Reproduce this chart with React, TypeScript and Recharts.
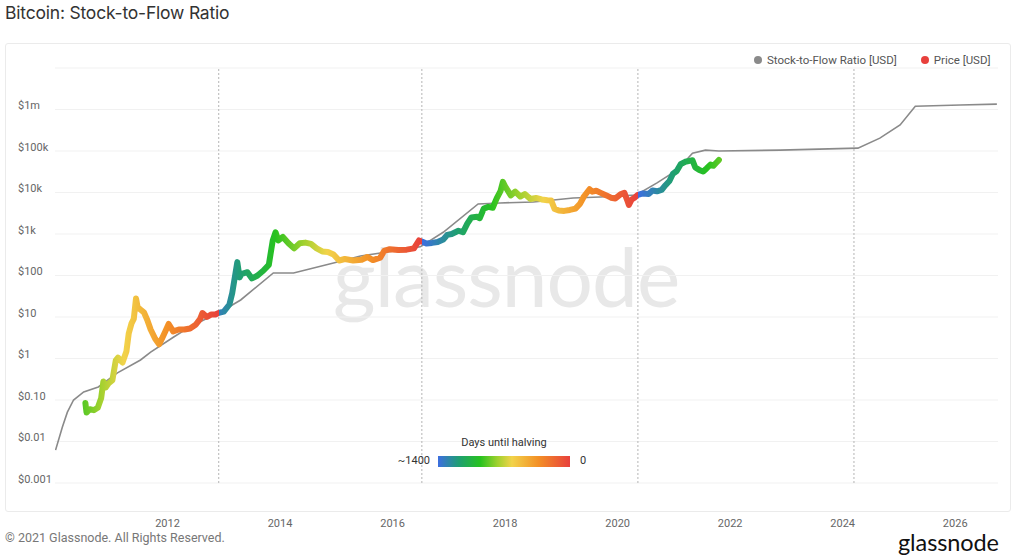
import React from 'react'
import { ComposedChart, Line, XAxis, YAxis, CartesianGrid, ReferenceLine } from 'recharts'

// stock-to-flow model (gray line), decimal years
const s2fYears = [
  2010.01, 2010.13, 2010.22, 2010.33, 2010.51, 2010.77, 2011.11, 2011.52, 2011.7, 2012.11, 2012.36, 2012.82,
  2012.91, 2013.3, 2013.88, 2014.24, 2014.95, 2015.43, 2016.14, 2016.49, 2016.9, 2017.52, 2017.91, 2018.5,
  2018.86, 2019.21, 2019.69, 2020.33, 2020.7, 2021.06, 2021.33, 2021.56, 2021.8, 2022.89, 2024.27, 2024.66,
  2025.02, 2025.29, 2026.09, 2026.74,
]
const s2fValues = [
  0.0062, 0.022, 0.051, 0.1, 0.156, 0.206, 0.45, 0.92, 1.43, 3.3, 5.4, 11.2,
  12.5, 25.7, 115, 115, 200, 295, 410, 490, 1100, 5300, 5600, 5900,
  6600, 7400, 7800, 8700, 17000, 35000, 89000, 105000, 100000, 105000, 117000, 204000,
  425000, 1200000, 1280000, 1350000,
]

// BTC price (coloured line)
const priceYears = [
  2010.54, 2010.56, 2010.62, 2010.69, 2010.76, 2010.82, 2010.86, 2010.9, 2010.95, 2011.02, 2011.08, 2011.12,
  2011.2, 2011.27, 2011.31, 2011.36, 2011.4, 2011.44, 2011.47, 2011.52, 2011.58, 2011.64, 2011.7, 2011.78,
  2011.85, 2011.9, 2011.96, 2012.02, 2012.1, 2012.2, 2012.3, 2012.4, 2012.5, 2012.58, 2012.62, 2012.7,
  2012.78, 2012.85, 2012.91, 2013.0, 2013.1, 2013.15, 2013.24, 2013.28, 2013.32, 2013.42, 2013.5, 2013.6,
  2013.7, 2013.8, 2013.87, 2013.92, 2013.97, 2014.05, 2014.15, 2014.25, 2014.35, 2014.45, 2014.55, 2014.65,
  2014.75, 2014.85, 2014.95, 2015.05, 2015.15, 2015.3, 2015.45, 2015.55, 2015.65, 2015.78, 2015.85, 2015.95,
  2016.1, 2016.25, 2016.38, 2016.47, 2016.53, 2016.6, 2016.7, 2016.8, 2016.9, 2016.97, 2017.05, 2017.17,
  2017.25, 2017.33, 2017.4, 2017.5, 2017.55, 2017.62, 2017.7, 2017.78, 2017.85, 2017.92, 2017.96, 2018.0,
  2018.04, 2018.1, 2018.18, 2018.27, 2018.35, 2018.45, 2018.55, 2018.65, 2018.75, 2018.82, 2018.88, 2018.95,
  2019.05, 2019.15, 2019.25, 2019.33, 2019.4, 2019.5, 2019.55, 2019.62, 2019.7, 2019.8, 2019.88, 2019.96,
  2020.05, 2020.12, 2020.18, 2020.2, 2020.25, 2020.3, 2020.36, 2020.45, 2020.55, 2020.62, 2020.7, 2020.78,
  2020.85, 2020.92, 2020.98, 2021.05, 2021.12, 2021.2, 2021.28, 2021.33, 2021.38, 2021.45, 2021.52, 2021.58,
  2021.65, 2021.7, 2021.77, 2021.8,
]
const priceValues = [
  0.085, 0.05, 0.06, 0.057, 0.065, 0.11, 0.28, 0.2, 0.25, 0.3, 0.9, 1.05,
  0.8, 1.5, 4, 7, 9, 28, 17, 15, 13, 8.5, 5, 3,
  2.2, 3, 4.5, 6.8, 4.5, 5, 5, 5.3, 6.5, 9, 12.5, 10,
  11.5, 11.5, 12.6, 13.5, 20, 38, 210, 90, 110, 120, 85, 100,
  130, 180, 700, 1100, 700, 850, 600, 450, 600, 620, 580, 450,
  380, 370, 320, 230, 250, 230, 240, 280, 235, 270, 390, 430,
  410, 420, 450, 700, 650, 590, 610, 640, 740, 950, 1000, 1200,
  1100, 1800, 2500, 2600, 2400, 4100, 4500, 4300, 7200, 11000, 18000, 14000,
  11500, 8500, 10500, 8000, 9200, 7000, 7400, 6800, 6500, 6400, 4000, 3700,
  3600, 3800, 4100, 5300, 8000, 12000, 10500, 11000, 9800, 8500, 7500, 7200,
  9000, 9800, 6000, 5000, 6800, 7500, 8800, 9500, 9200, 11200, 10700, 11500,
  15000, 19000, 28000, 33000, 48000, 55000, 58000, 60000, 40000, 35000, 32000, 38000,
  47000, 44000, 55000, 61000,
]

const halvings = [2012.91, 2016.52, 2020.36, 2024.2]
const yearTicks = [2012, 2014, 2016, 2018, 2020, 2022, 2024, 2026]
const priceTicks = [0.001, 0.01, 0.1, 1, 10, 100, 1000, 10000, 100000, 1000000, 10000000]
const priceLabels = ['$0.001', '$0.01', '$0.10', '$1', '$10', '$100', '$1k', '$10k', '$100k', '$1m', '']

const s2fData = s2fYears.map((year, i) => ({ year, s2f: s2fValues[i] }))
const priceData = priceYears.map((year, i) => ({ year, price: priceValues[i] }))

const X_DOMAIN: [number, number] = [2010.0, 2026.76]
const PLOT_LEFT = 55
const PLOT_RIGHT = 998

// blue (~1400 days) -> red (0 days)
const SCALE = [
  [0, '#3d6ee0'],
  [0.16, '#1f9f72'],
  [0.32, '#27c21f'],
  [0.45, '#9fd12e'],
  [0.56, '#f2d34a'],
  [0.76, '#f39026'],
  [1, '#e8403c'],
] as [number, string][]

const hexToRgb = (h: string) => [1, 3, 5].map((i) => parseInt(h.slice(i, i + 2), 16))

const colorAt = (t: number) => {
  t = Math.max(0, Math.min(1, t))
  for (let i = 1; i < SCALE.length; i++) {
    if (t <= SCALE[i][0]) {
      const [t0, c0] = SCALE[i - 1]
      const [t1, c1] = SCALE[i]
      const f = (t - t0) / (t1 - t0)
      const a = hexToRgb(c0)
      const b = hexToRgb(c1)
      return `rgb(${a.map((v, k) => Math.round(v + (b[k] - v) * f)).join(',')})`
    }
  }
  return SCALE[SCALE.length - 1][1]
}

const buildStops = () => {
  const stops: { off: number; color: string }[] = []
  const span = X_DOMAIN[1] - X_DOMAIN[0]
  const tFor = (year: number) => {
    const next = halvings.find((h) => h > year)
    if (next === undefined) return 0
    return 1 - ((next - year) * 365.25) / 1400
  }
  for (let y = X_DOMAIN[0]; y <= X_DOMAIN[1]; y += 0.02) {
    for (const h of halvings) {
      if (h > y - 0.02 && h <= y) {
        stops.push({ off: (h - X_DOMAIN[0]) / span, color: colorAt(1) })
        stops.push({ off: (h - X_DOMAIN[0]) / span, color: colorAt(0) })
      }
    }
    stops.push({ off: (y - X_DOMAIN[0]) / span, color: colorAt(tFor(y)) })
  }
  return stops
}
const gradStops = buildStops()

const FONT = 'Roboto, "Noto Sans", sans-serif'

const YTick = ({ y, payload }: any) => {
  const idx = priceTicks.indexOf(payload.value)
  return (
    <text x={18} y={y - 4} fill="#666" fontSize={11} fontFamily={FONT} dominantBaseline="central">
      {priceLabels[idx] ?? ''}
    </text>
  )
}

const XTick = ({ x, payload }: any) => (
  <text x={x} y={523} fill="#666" fontSize={11} fontFamily={FONT} textAnchor="middle" dominantBaseline="central">
    {payload.value}
  </text>
)

export default function App() {
  return (
    <div style={{ position: 'absolute', left: 0, top: 0, width: 1024, height: 556, background: '#fff', fontFamily: FONT, overflow: 'hidden' }}>
      <div style={{ position: 'absolute', left: 5, top: 2, fontSize: 17.5, color: '#333', fontFamily: 'Inter, Roboto, sans-serif', letterSpacing: -0.2 }}>
        Bitcoin: Stock-to-Flow Ratio
      </div>
      <div style={{ position: 'absolute', left: 5, top: 43, width: 1004, height: 467, border: '1px solid #ebebeb', borderRadius: 3 }} />
      {/* watermark */}
      <div style={{ position: 'absolute', left: 333, top: 226, fontSize: 82, color: '#e8e8e8', fontFamily: 'Lato, sans-serif', letterSpacing: -1 }}>
        glassnode
      </div>
      <div style={{ position: 'absolute', left: 0, top: 0 }}>
        <ComposedChart width={1024} height={556} margin={{ top: 68, right: 1024 - PLOT_RIGHT, bottom: 0, left: 0 }}>
          <defs>
            <linearGradient id="priceGrad" gradientUnits="userSpaceOnUse" x1={PLOT_LEFT} y1={0} x2={PLOT_RIGHT} y2={0}>
              {gradStops.map((s, i) => (
                <stop key={i} offset={s.off} stopColor={s.color} />
              ))}
            </linearGradient>
          </defs>
          <CartesianGrid vertical={false} stroke="#f1f1f1" />
          <XAxis
            dataKey="year"
            type="number"
            domain={X_DOMAIN}
            ticks={yearTicks}
            allowDataOverflow
            axisLine={false}
            tickLine={false}
            height={73}
            tick={<XTick />}
          />
          <YAxis
            type="number"
            scale="log"
            domain={[0.001, 10000000]}
            ticks={priceTicks}
            allowDataOverflow
            axisLine={false}
            tickLine={false}
            width={PLOT_LEFT}
            tick={<YTick />}
          />
          {halvings.map((h) => (
            <ReferenceLine key={h} x={h} stroke="#b5b5b5" strokeDasharray="2 2" />
          ))}
          <Line data={s2fData} dataKey="s2f" stroke="#8a8a8a" strokeWidth={1.6} dot={false} isAnimationActive={false} />
          <Line
            data={priceData}
            dataKey="price"
            stroke="url(#priceGrad)"
            strokeWidth={6}
            strokeLinejoin="round"
            strokeLinecap="round"
            dot={false}
            isAnimationActive={false}
          />
        </ComposedChart>
      </div>
      {/* legend */}
      <div style={{ position: 'absolute', top: 53, left: 754, fontSize: 11.5, color: '#555', display: 'flex', alignItems: 'center' }}>
        <span style={{ width: 8, height: 8, borderRadius: 4, background: '#8a8a8a', marginRight: 5 }} />
        <span>Stock-to-Flow Ratio [USD]</span>
        <span style={{ width: 8, height: 8, borderRadius: 4, background: '#e8403c', marginLeft: 24, marginRight: 5 }} />
        <span>Price [USD]</span>
      </div>
      {/* colour bar */}
      <div style={{ position: 'absolute', left: 438, top: 436, width: 132, textAlign: 'center', fontSize: 11, color: '#333' }}>
        Days until halving
      </div>
      <div style={{ position: 'absolute', left: 390, top: 454, width: 40, textAlign: 'right', fontSize: 11, color: '#333' }}>~1400</div>
      <div
        style={{
          position: 'absolute',
          left: 438,
          top: 456,
          width: 132,
          height: 11,
          background: `linear-gradient(to right, ${SCALE.map(([t, c]) => `${c} ${t * 100}%`).join(', ')})`,
        }}
      />
      <div style={{ position: 'absolute', left: 580, top: 454, fontSize: 11, color: '#333' }}>0</div>
      {/* footer */}
      <div style={{ position: 'absolute', left: 5, top: 530, fontSize: 12.5, color: '#777' }}>© 2021 Glassnode. All Rights Reserved.</div>
      <div style={{ position: 'absolute', left: 898, top: 531, fontSize: 23.5, lineHeight: '23px', color: '#111', fontFamily: 'Lato, sans-serif', letterSpacing: -0.1 }}>
        glassnode
      </div>
    </div>
  )
}
